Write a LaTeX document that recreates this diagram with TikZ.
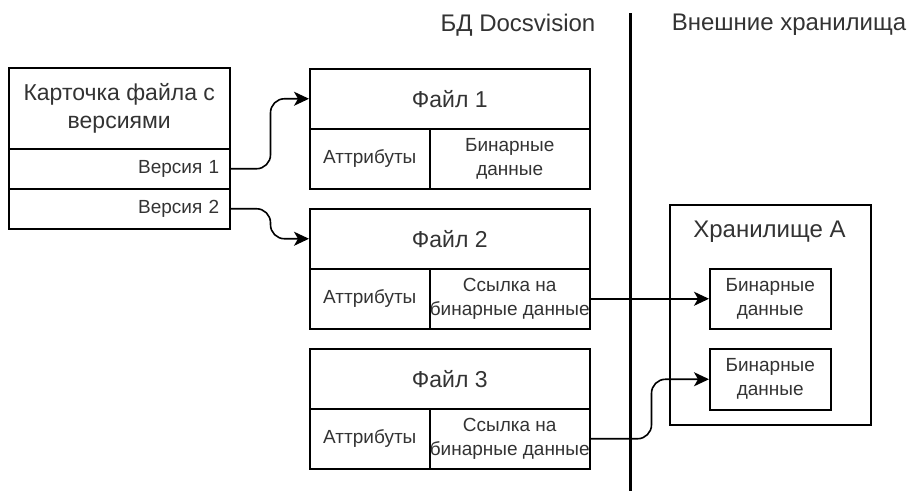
\documentclass[tikz,border=0pt]{standalone}
\usepackage{fontspec}
\setmainfont{Liberation Sans}
\usetikzlibrary{arrows.meta}
\definecolor{txt}{HTML}{333333}
\begin{document}
\begin{tikzpicture}[x=1pt,y=-1pt,
  box/.style={draw=black, line width=1.5pt, inner sep=0pt, anchor=north west, align=center, text=txt},
  big/.style={font=\fontsize{23}{28}\selectfont},
  small/.style={font=\fontsize{19}{24}\selectfont},
  head/.style={font=\fontsize{24}{28}\selectfont, text=txt},
  arr/.style={draw=black, line width=1.6pt, -{Stealth[length=15pt,width=14pt,inset=4pt]}},
]
\useasboundingbox (0,0) rectangle (909,491);
% card
\node[box, big, minimum width=221pt, minimum height=81pt] (card) at (8,67) {Карточка файла с\\версиями};
\node[box, small, minimum width=221pt, minimum height=40pt, text width=200pt, align=right] (v1) at (8,148) {Версия 1};
\node[box, small, minimum width=221pt, minimum height=40pt, text width=200pt, align=right] (v2) at (8,188) {Версия 2};
% file 1
\node[box, big, minimum width=280pt, minimum height=60pt] (f1h) at (309,68) {Файл 1};
\node[box, small, minimum width=120pt, minimum height=60pt] (f1a) at (309,128) {Аттрибуты};
\node[box, small, minimum width=160pt, minimum height=60pt] (f1d) at (429,128) {Бинарные\\данные};
% file 2
\node[box, big, minimum width=280pt, minimum height=60pt] (f2h) at (309,208) {Файл 2};
\node[box, small, minimum width=120pt, minimum height=60pt] (f2a) at (309,268) {Аттрибуты};
\node[box, small, minimum width=160pt, minimum height=60pt] (f2d) at (429,268) {Ссылка на\\бинарные данные};
% file 3
\node[box, big, minimum width=280pt, minimum height=60pt] (f3h) at (309,348) {Файл 3};
\node[box, small, minimum width=120pt, minimum height=60pt] (f3a) at (309,408) {Аттрибуты};
\node[box, small, minimum width=160pt, minimum height=60pt] (f3d) at (429,408) {Ссылка на\\бинарные данные};
% storage
\node[box, minimum width=201pt, minimum height=220pt] (st) at (669,204) {};
\node[head] (sttitle) at (769.5,232) {Хранилище A};
\node[box, small, minimum width=121pt, minimum height=60pt] (b1) at (709,268) {Бинарные\\данные};
\node[box, small, minimum width=121pt, minimum height=61pt] (b2) at (709,348) {Бинарные\\данные};
% headers
\node[head] (hdb) at (518,25) {БД Docsvision};
\node[head] (hext) at (789,25) {Внешние хранилища};
\coordinate (sepT) at (630,13);
\coordinate (sepB) at (630,491);
\draw[line width=3pt] (sepT) -- (sepB);
% connectors
\draw[arr, rounded corners=14pt] (v1.east) -- ++(40,0) |- (f1h.west);
\draw[arr, rounded corners=14pt] (v2.east) -- ++(40,0) |- (f2h.west);
\draw[arr] (f2d.east) -- (b1.west);
\draw[arr, rounded corners=14pt] (f3d.east) -- ++(61,0) |- (b2.west);
\end{tikzpicture}
\end{document}
